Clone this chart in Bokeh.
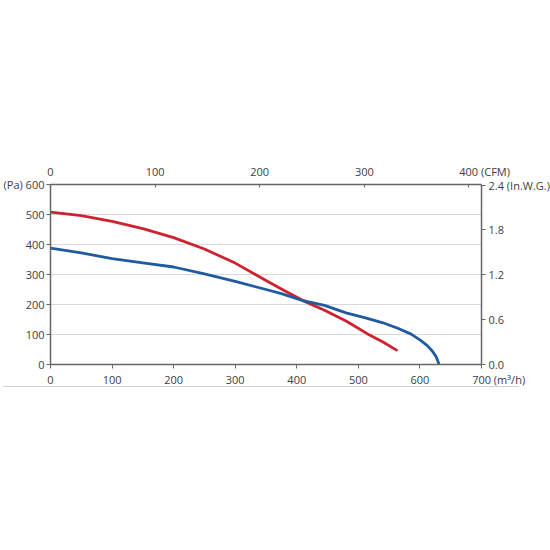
from bokeh.plotting import figure
from bokeh.models import Range1d, LinearAxis, FixedTicker, Div, NumeralTickFormatter
from bokeh.layouts import column
from bokeh.embed import file_html
from bokeh.resources import INLINE

# Data
q_red = [0, 50, 100, 150, 200, 250, 300, 350, 375, 410, 445, 480, 515, 540, 562]
p_red = [508, 496, 477, 453, 423, 385, 338, 280, 252, 213, 181, 145, 102, 75, 48]
q_blue = [0, 50, 100, 150, 200, 250, 300, 350, 375, 410, 445, 480, 510, 540, 565,
          585, 600, 612, 620, 626, 629, 631]
p_blue = [388, 372, 353, 339, 325, 302, 277, 250, 236, 213, 197, 172, 156, 139, 120,
          102, 82, 63, 45, 27, 12, 0]
x_ticks = [0, 100, 200, 300, 400, 500, 600, 700]
y_ticks = [0, 100, 200, 300, 400, 500, 600]
cfm_ticks = [0, 100, 200, 300, 400]
inwg_ticks = [0.0, 0.6, 1.2, 1.8, 2.4]

FONT = "Open Sans"
TXT = "#404040"
AX = "#666666"
NB = "\u00a0"

p = figure(width=550, height=387, output_backend="svg", toolbar_location=None,
           x_range=Range1d(0, 700), y_range=Range1d(0, 600),
           min_border_left=50, min_border_right=69, min_border_top=184, min_border_bottom=23)
p.frame_width = 431
p.frame_height = 180
p.outline_line_color = None
p.background_fill_color = "white"
p.border_fill_color = "white"

p.extra_x_ranges = {"cfm": Range1d(0, 700 / 1.699)}
p.extra_y_ranges = {"inwg": Range1d(0, 600 / 249.089)}


def style(ax, tin, tout, standoff):
    ax.axis_line_color = AX
    ax.axis_line_width = 1.5
    ax.major_tick_line_color = AX
    ax.major_tick_line_width = 1
    ax.major_tick_in = tin
    ax.major_tick_out = tout
    ax.minor_tick_line_color = None
    ax.major_label_text_font = FONT
    ax.major_label_text_font_size = "11px"
    ax.major_label_text_color = TXT
    ax.major_label_standoff = standoff


xa = p.xaxis[0]
xa.ticker = FixedTicker(ticks=x_ticks)
xa.major_label_overrides = {700: NB * 12 + "700 (m³/h)"}
style(xa, 0, 4, 3)

ya = p.yaxis[0]
ya.ticker = FixedTicker(ticks=y_ticks)
ya.major_label_overrides = {600: "(Pa) 600"}
style(ya, 0, 4, 2)

top = LinearAxis(x_range_name="cfm", ticker=FixedTicker(ticks=cfm_ticks))
top.major_label_overrides = {400: NB * 11 + "400 (CFM)"}
style(top, 3, 0, 6)
p.add_layout(top, "above")

right = LinearAxis(y_range_name="inwg", ticker=FixedTicker(ticks=inwg_ticks),
                   formatter=NumeralTickFormatter(format="0.0"))
right.major_label_overrides = {2.4: "2.4 (In.W.G.)"}
style(right, 0, 4, 3)
p.add_layout(right, "right")

p.xgrid.grid_line_color = None
p.ygrid.ticker = FixedTicker(ticks=y_ticks)
p.ygrid.grid_line_color = "#d9d9d9"
p.ygrid.grid_line_width = 1

p.line(q_red, p_red, line_color="#cf2230", line_width=2.8, line_join="round", line_cap="round")
p.line(q_blue, p_blue, line_color="#1f5b9e", line_width=2.8, line_join="round", line_cap="round")

line_div = Div(text='<div style="width:516px;height:0;border-top:1px solid #d4d4d4;"></div>',
               width=530, height=4, margin=(-14, 0, 0, 3))

layout = column(p, line_div, spacing=0)
open("out.html", "w").write(file_html(layout, INLINE))
